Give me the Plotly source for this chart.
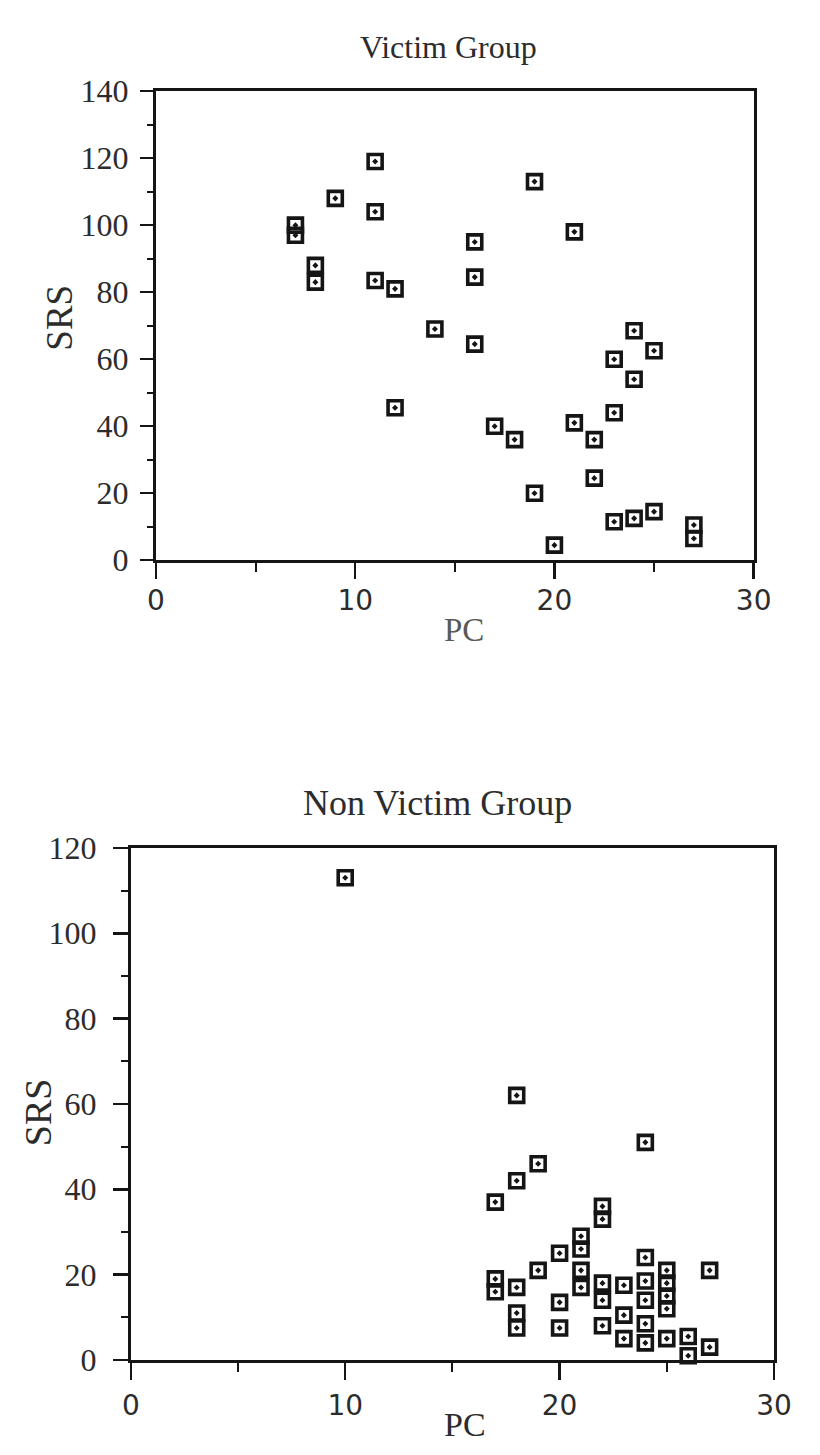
import plotly.graph_objects as go

# ---- data ----
victim_pc = [7, 7, 8, 8, 9, 11, 11, 11, 12, 12, 14, 16, 16, 16, 17, 18, 19, 19,
             20, 21, 21, 22, 22, 23, 23, 23, 24, 24, 24, 25, 25, 27, 27]
victim_srs = [100, 97, 88, 83, 108, 119, 104, 83.5, 81, 45.5, 69, 95, 84.5, 64.5,
              40, 36, 113, 20, 4.5, 98, 41, 36, 24.5, 60, 44, 11.5, 68.5, 54, 12.5,
              62.5, 14.5, 10.5, 6.5]

nonvictim_pc = [10, 18, 24, 19, 18, 17, 22, 22, 21, 21, 21, 21, 20, 24, 19, 27,
                25, 25, 25, 25, 17, 17, 18, 18, 18, 20, 20, 22, 22, 22, 23, 23, 23,
                24, 24, 24, 24, 25, 26, 26, 27]
nonvictim_srs = [113, 62, 51, 46, 42, 37, 36, 33, 29, 26, 21, 17, 25, 24, 21, 21,
                 21, 18, 15, 12, 19, 16, 17, 11, 7.5, 13.5, 7.5, 18, 14, 8, 17.5,
                 10.5, 5, 18.5, 14, 8.5, 4, 5, 5.5, 1, 3]

x_major = [0, 10, 20, 30]
x_minor = [5, 15, 25]
top_y_major = [0, 20, 40, 60, 80, 100, 120, 140]
top_y_minor = [10, 30, 50, 70, 90, 110, 130]
bot_y_major = [0, 20, 40, 60, 80, 100, 120]
bot_y_minor = [10, 30, 50, 70, 90, 110]

W, H = 820, 1455
INK = "#151515"
TXT = "#2c2c2c"


def px(xp):
    return xp / W


def py(yp):
    return 1 - yp / H


marker = dict(symbol="square-open-dot", size=14, color=INK,
              line=dict(width=3.6, color=INK))

fig = go.Figure()
fig.add_trace(go.Scatter(x=victim_pc, y=victim_srs, mode="markers", marker=marker,
                         xaxis="x", yaxis="y", cliponaxis=False, showlegend=False))
fig.add_trace(go.Scatter(x=nonvictim_pc, y=nonvictim_srs, mode="markers", marker=marker,
                         xaxis="x2", yaxis="y2", cliponaxis=False, showlegend=False))

common = dict(showline=True, linecolor=INK, linewidth=3, mirror=True,
              showgrid=False, zeroline=False, ticks="outside", tickcolor=INK,
              tickwidth=2.5, fixedrange=True)

xfont = dict(family="DejaVu Sans", size=28, color=TXT)
yfont = dict(family="Liberation Serif", size=32, color=TXT)

fig.update_layout(
    width=W, height=H, autosize=False,
    margin=dict(l=0, r=0, t=0, b=0),
    paper_bgcolor="white", plot_bgcolor="white",
    xaxis=dict(common, domain=[px(152), px(770)], range=[0, 30], anchor="y",
               tickvals=x_major, ticklen=16, tickfont=xfont, ticklabelstandoff=-3,
               minor=dict(tickvals=x_minor, ticks="outside", ticklen=9,
                          tickwidth=2, tickcolor=INK)),
    yaxis=dict(common, domain=[py(556), py(75)], range=[0, 140], anchor="x",
               tickvals=top_y_major, ticklen=13, tickfont=yfont, ticklabelstandoff=5,
               minor=dict(tickvals=top_y_minor, ticks="outside", ticklen=6,
                          tickwidth=2, tickcolor=INK)),
    xaxis2=dict(common, domain=[px(126), px(791)], range=[0, 30], anchor="y2",
                tickvals=x_major, ticklen=17, tickfont=xfont, ticklabelstandoff=1,
                minor=dict(tickvals=x_minor, ticks="outside", ticklen=9,
                           tickwidth=2, tickcolor=INK)),
    yaxis2=dict(common, domain=[py(1376), py(851)], range=[0, 120], anchor="x2",
                tickvals=bot_y_major, ticklen=15, tickfont=yfont, ticklabelstandoff=10,
                minor=dict(tickvals=bot_y_minor, ticks="outside", ticklen=7,
                           tickwidth=2, tickcolor=INK)),
)

serif = "Liberation Serif"
annotations = [
    dict(text="Victim Group", x=px(454), y=py(30), font=dict(family=serif, size=32, color=TXT)),
    dict(text="Non Victim Group", x=px(443), y=py(805), font=dict(family=serif, size=36, color=TXT)),
    dict(text="SRS", x=px(52), y=py(307), textangle=-90, font=dict(family=serif, size=37, color=TXT)),
    dict(text="SRS", x=px(30), y=py(1122), textangle=-90, font=dict(family=serif, size=38, color=TXT)),
    dict(text="PC", x=px(470), y=py(628), font=dict(family=serif, size=33, color="#5a5a5a")),
    dict(text="PC", x=px(472), y=py(1442), font=dict(family=serif, size=34, color=TXT)),
]
for a in annotations:
    a.update(xref="paper", yref="paper", xanchor="center", yanchor="middle",
             showarrow=False)
fig.update_layout(annotations=annotations)

fig.write_html(
    "out.html",
    config={"displayModeBar": False, "staticPlot": True},
    post_script="document.body.style.margin='0';document.body.style.overflow='hidden';",
)
